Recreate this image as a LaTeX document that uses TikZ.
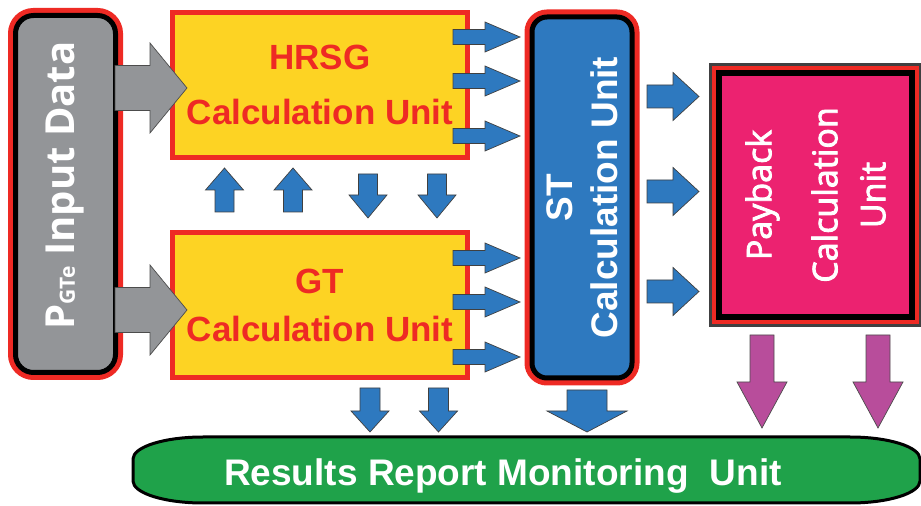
\documentclass[tikz,border=0pt]{standalone}
\usepackage{fontspec}
\setmainfont{Liberation Sans}
\newfontfamily\opensans{Open Sans}
\newfontfamily\opensansmed[FakeBold=2.5]{Open Sans}
\usepackage{xcolor}
\usetikzlibrary{positioning}

\definecolor{boxred}{HTML}{EE2A24}
\definecolor{inpgray}{HTML}{939598}
\definecolor{unityellow}{HTML}{FDD323}
\definecolor{stblue}{HTML}{2E79BF}
\definecolor{paypink}{HTML}{EC2270}
\definecolor{paymag}{HTML}{B84D9B}
\definecolor{resgreen}{HTML}{1FA24A}
\definecolor{framegray}{HTML}{404041}

\tikzset{
  pics/blkarrow/.style args={#1/#2/#3/#4}{code={
    \path[pic actions] (0,-#2) -- ({#1-#4},-#2) -- ({#1-#4},-#3) -- (#1,0)
      -- ({#1-#4},#3) -- ({#1-#4},#2) -- (0,#2) -- cycle;}},
}

\begin{document}
\begin{tikzpicture}[x=1pt,y=1pt,
    framed unit/.style={draw=black,line width=5pt,inner sep=0pt,outer sep=0pt,
      preaction={draw=boxred,line width=15pt},text=white,align=center},
    pay unit/.style={draw=black,line width=6pt,inner sep=0pt,outer sep=0pt,fill=paypink,
      preaction={draw=boxred,line width=14pt,preaction={draw=framegray,line width=20pt}},
      text=white,align=center},
    calc unit/.style={draw=boxred,fill=unityellow,line width=5pt,inner sep=0pt,outer sep=0pt,
      minimum width=295pt,minimum height=145pt,text=boxred,align=center,
      font=\fontsize{35}{48}\selectfont\bfseries},
    blue arrow/.style={fill=stblue,draw=black!75,line width=0.7pt},
    gray arrow/.style={fill=inpgray,draw=black!70,line width=0.7pt},
    pay arrow/.style={fill=paymag,draw=black!70,line width=0.7pt}]
  \useasboundingbox (0,0) rectangle (921,506);

  \node[framed unit,fill=inpgray,rounded corners=18pt,rotate=90,
        minimum width=357pt,minimum height=100pt,
        font=\opensans\bfseries\fontsize{40}{40}\selectfont] (inp) at (65.5,312)
        {\hspace*{17pt}P{\fontsize{21}{21}\selectfont GTe} Input Data};
  \node[calc unit] (hrsg) at (320,421) {HRSG\\[7pt]Calculation Unit};
  \node[calc unit,below=75pt of hrsg] (gt) {GT\\Calculation Unit};
  \node[framed unit,fill=stblue,rounded corners=15pt,rotate=90,
        minimum width=361pt,minimum height=100pt,
        font=\fontsize{37}{45}\selectfont\bfseries] (st) at (582,308.5)
        {ST\\Calculation Unit};
  \node[pay unit,rotate=90,minimum width=244pt,minimum height=193pt,
        font=\opensansmed\fontsize{34}{48}\selectfont] (pay) at (815.5,311)
        {Payback\\[18pt]Calculation\\Unit};

  \draw[fill=resgreen,draw=black,line width=3pt] (203,69) -- (850,69)
    arc[start angle=90,end angle=0,x radius=70,y radius=22] -- (920,25)
    arc[start angle=0,end angle=-90,x radius=70,y radius=22] -- (203,3)
    arc[start angle=270,end angle=180,x radius=70,y radius=22] -- (133,47)
    arc[start angle=180,end angle=90,x radius=70,y radius=22] -- cycle;
  \node[font=\fontsize{37}{37}\selectfont\bfseries,text=white,anchor=base] (res) at (503,20)
    {Results Report Monitoring\hspace{11pt} Unit};

  \pic[gray arrow] at (115,418) {blkarrow=72/22.5/45/37};
  \pic[gray arrow] at (115,196) {blkarrow=72/22.5/45/37};
  \foreach \y in {469,425,370,248,204,149}
    \pic[blue arrow] at (453,\y) {blkarrow=67/7.5/15/35};
  \foreach \x in {224.5,293}
    \pic[blue arrow,rotate=90] at (\x,294) {blkarrow=44/9.5/19/22};
  \foreach \x in {368,437}
    \pic[blue arrow,rotate=-90] at (\x,332) {blkarrow=44/9.5/19/23};
  \foreach \y in {409.5,314.5,214.5}
    \pic[blue arrow] at (647,\y) {blkarrow=52/11.5/24/26};
  \foreach \x in {762,878}
    \pic[pay arrow,rotate=-90] at (\x,171) {blkarrow=93/12/25/46};
  \foreach \x in {370,438.5}
    \pic[blue arrow,rotate=-90] at (\x,118) {blkarrow=44/10/19/21};
  \pic[blue arrow,rotate=-90] at (587,116) {blkarrow=42/20/40/21};
\end{tikzpicture}
\end{document}
